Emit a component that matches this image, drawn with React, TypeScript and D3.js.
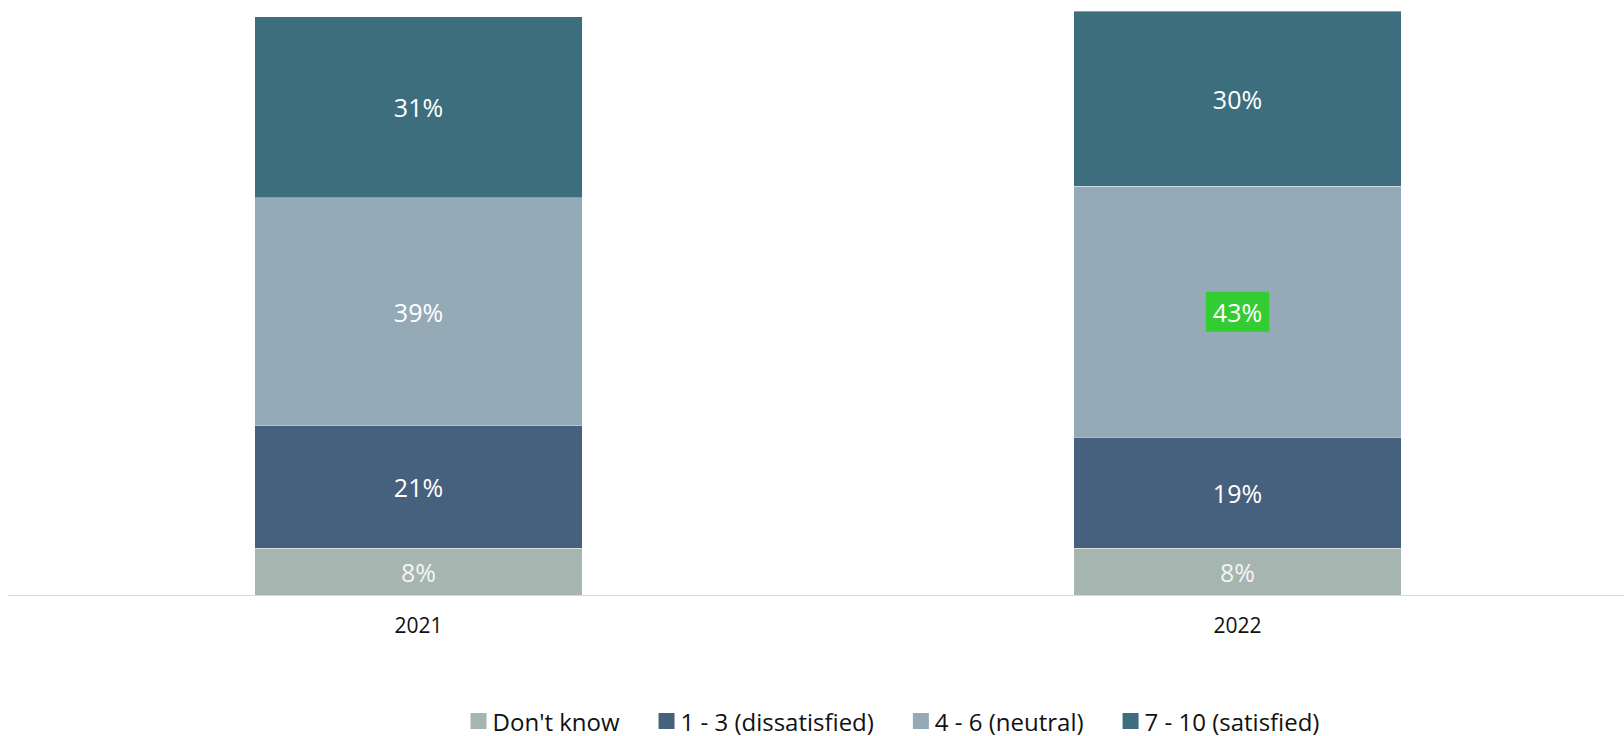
import React, { useEffect, useRef } from "react";
import * as d3 from "d3";

// Survey years (x categories)
const years = ["2021", "2022"];

// Response groups, bottom to top of each stack
const seriesNames = ["Don't know", "1 - 3 (dissatisfied)", "4 - 6 (neutral)", "7 - 10 (satisfied)"];

// Share of respondents per group, in percent, one value per year
const dontKnow = [8, 8];
const dissatisfied = [21, 19];
const neutral = [39, 43];
const satisfied = [31, 30];

const seriesColors = ["#a7b5b0", "#46617d", "#94aab6", "#3d6e7e"];

// Value labels drawn on a highlight box: [series index, year index]
const highlightedLabels: [number, number][] = [[2, 1]];
const highlightColor = "#33cc33";

const WIDTH = 1624;
const HEIGHT = 736;
const FONT = "'Open Sans', 'Noto Sans', sans-serif";

export default function App() {
  const ref = useRef<SVGSVGElement | null>(null);

  useEffect(() => {
    const svg = d3.select(ref.current);
    svg.selectAll("*").remove();

    const table = years.map((year, i) => ({
      year,
      [seriesNames[0]]: dontKnow[i],
      [seriesNames[1]]: dissatisfied[i],
      [seriesNames[2]]: neutral[i],
      [seriesNames[3]]: satisfied[i],
    }));

    const stack = d3.stack<any>().keys(seriesNames);
    const layers = stack(table);

    const x = d3
      .scaleBand<string>()
      .domain(years)
      .range([9, 1647])
      .paddingInner(0.6)
      .paddingOuter(0.3);

    const y = d3.scaleLinear().domain([0, 100]).range([595, 11]);

    const color = d3.scaleOrdinal<string, string>().domain(seriesNames).range(seriesColors);

    // Stacked segments
    const layerG = svg
      .append("g")
      .selectAll("g")
      .data(layers)
      .join("g")
      .attr("fill", (d) => color(d.key));

    layerG
      .selectAll("rect")
      .data((d) => d)
      .join("rect")
      .attr("x", (d: any) => x(d.data.year)!)
      .attr("width", x.bandwidth())
      .attr("y", (d) => y(d[1]))
      .attr("height", (d) => y(d[0]) - y(d[1]))
      .attr("stroke", "rgba(255,255,255,0.35)")
      .attr("stroke-width", 1)
      .attr("shape-rendering", "crispEdges");

    // Baseline
    svg
      .append("line")
      .attr("x1", 8)
      .attr("x2", WIDTH)
      .attr("y1", y(0) + 0.5)
      .attr("y2", y(0) + 0.5)
      .attr("stroke", "#d9d9d9")
      .attr("stroke-width", 1);

    // Value labels
    const labelG = svg.append("g").attr("font-family", FONT).attr("font-size", 25);
    layers.forEach((layer, si) => {
      layer.forEach((seg: any, yi) => {
        const cx = x(seg.data.year)! + x.bandwidth() / 2;
        const cy = (y(seg[0]) + y(seg[1])) / 2;
        const value = seg[1] - seg[0];
        const isHighlighted = highlightedLabels.some(([s, yr]) => s === si && yr === yi);
        const g = labelG.append("g");
        const bg = isHighlighted ? g.append("rect") : null;
        const t = g
          .append("text")
          .attr("x", cx)
          .attr("y", cy)
          .attr("text-anchor", "middle")
          .attr("dominant-baseline", "central")
          .attr("fill", si === 0 ? "#f4f4f4" : "#ffffff")
          .text(`${value}%`);
        if (bg) {
          const w = (t.node() as SVGTextElement).getComputedTextLength();
          bg.attr("x", cx - w / 2 - 7)
            .attr("y", cy - 20)
            .attr("width", w + 14)
            .attr("height", 40)
            .attr("fill", highlightColor);
        }
      });
    });

    // Category axis labels
    svg
      .append("g")
      .attr("font-family", FONT)
      .attr("font-size", 21)
      .selectAll("text")
      .data(years)
      .join("text")
      .attr("x", (d) => x(d)! + x.bandwidth() / 2)
      .attr("y", 625)
      .attr("text-anchor", "middle")
      .attr("dominant-baseline", "central")
      .attr("fill", "#111")
      .text((d) => d);

    // Legend
    const legend = svg.append("g").attr("font-family", FONT).attr("font-size", 24);
    const items = seriesNames.map((name) => {
      const g = legend.append("g");
      g.append("rect").attr("width", 16).attr("height", 16).attr("y", -8).attr("fill", color(name));
      const t = g
        .append("text")
        .attr("x", 22)
        .attr("y", 0)
        .attr("dominant-baseline", "central")
        .attr("fill", "#111")
        .text(name);
      const w = 22 + (t.node() as SVGTextElement).getComputedTextLength();
      return { g, w };
    });
    const gap = 39;
    const total = d3.sum(items, (d) => d.w) + gap * (items.length - 1);
    let cursor = 895 - total / 2;
    items.forEach(({ g, w }) => {
      g.attr("transform", `translate(${cursor},721)`);
      cursor += w + gap;
    });
  }, []);

  return (
    <svg
      ref={ref}
      width={WIDTH}
      height={HEIGHT}
      style={{ position: "absolute", left: 0, top: 0, background: "#fff" }}
    />
  );
}
